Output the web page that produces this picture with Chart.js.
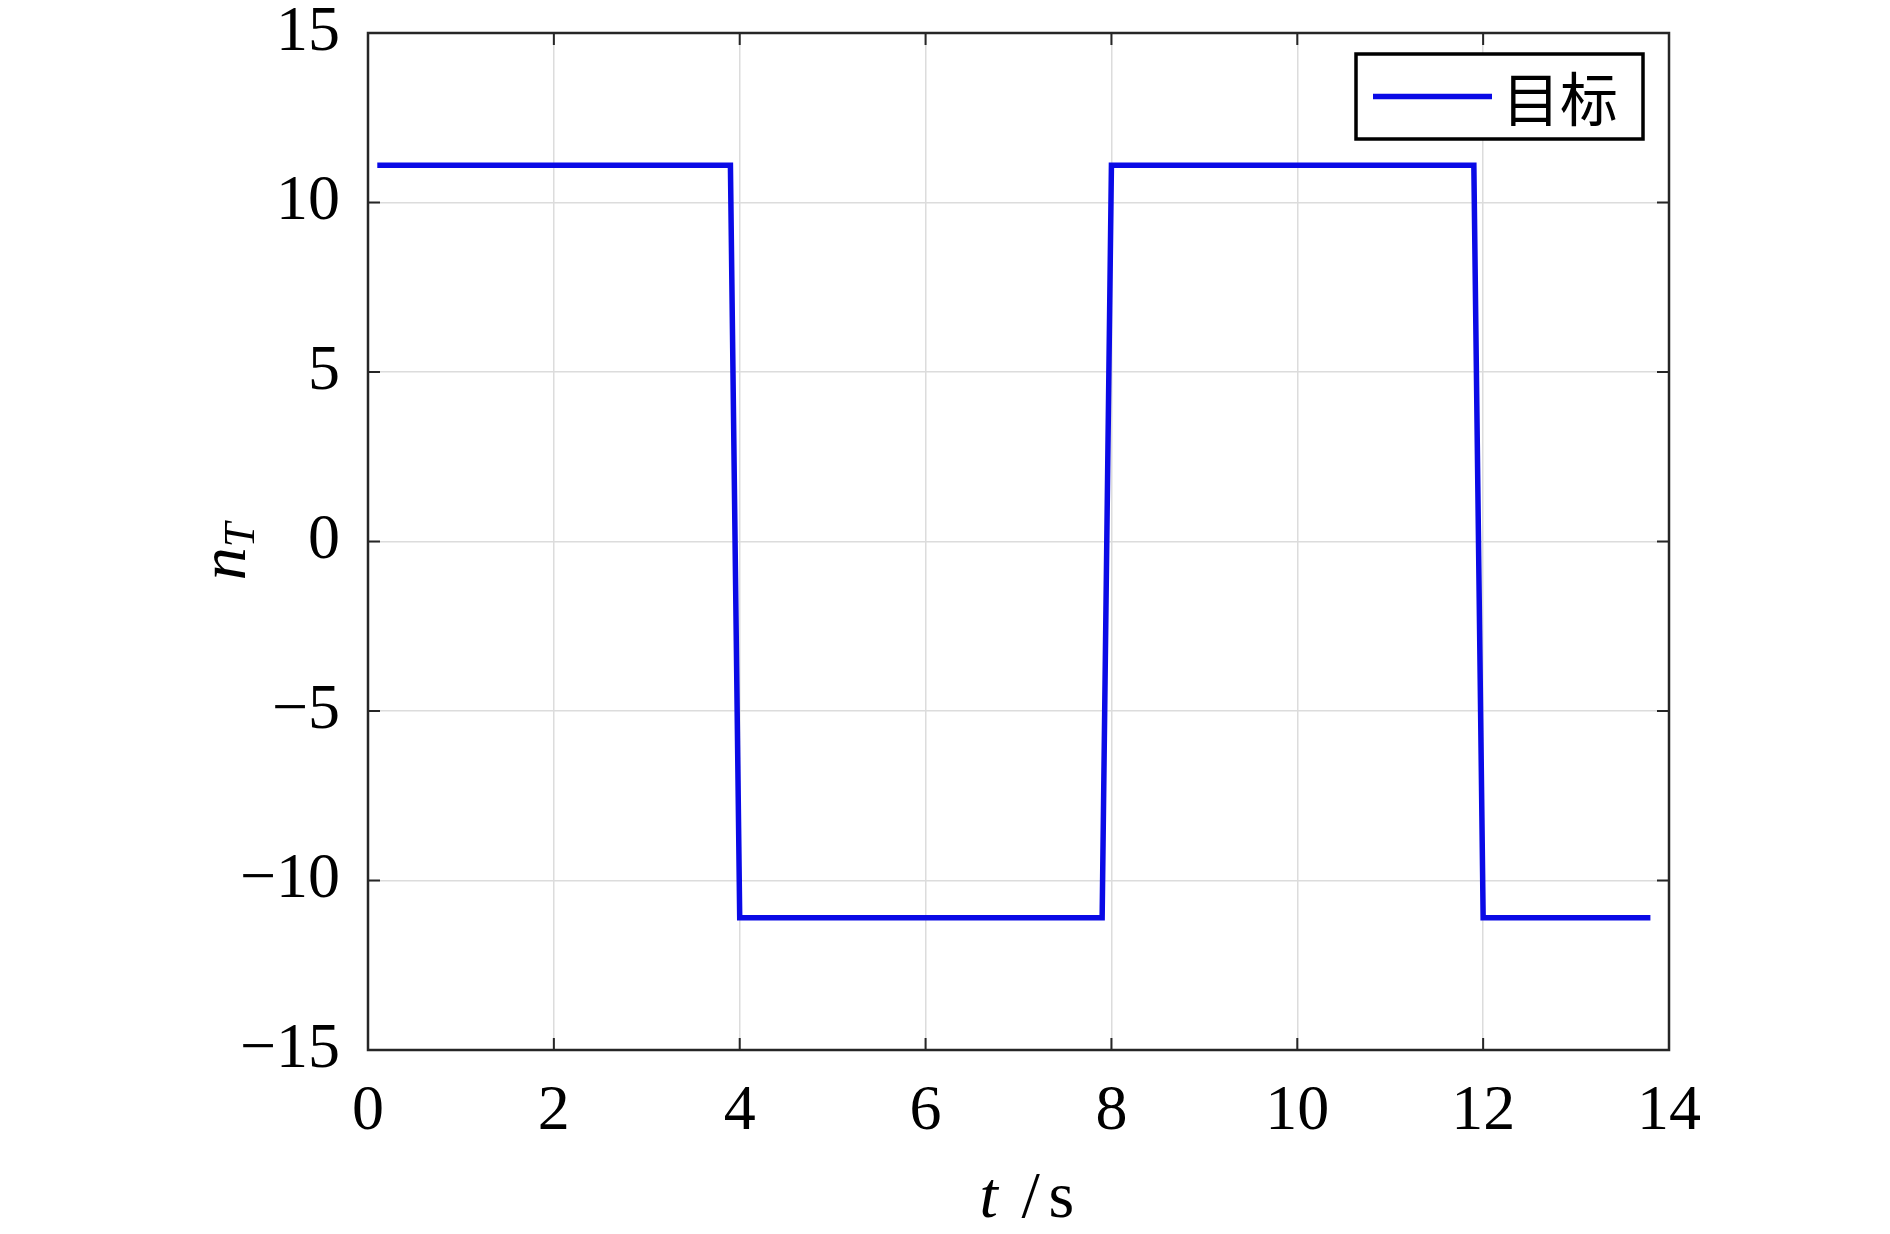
<!DOCTYPE html>
<html>
<head>
<meta charset="utf-8">
<title>目标</title>
<script src="https://cdn.jsdelivr.net/npm/chart.js@4.4.1/dist/chart.umd.min.js"></script>
<style>
  html, body { margin: 0; padding: 0; background: #fff; }
  canvas { display: block; }
</style>
</head>
<body>
<canvas id="chart" width="1890" height="1234"></canvas>
<script>
// target signal n_T over time t
const timeValues = [0.1, 3.9, 4.0, 7.9, 8.0, 11.9, 12.0, 13.8];
const targetValues = [11.1, 11.1, -11.1, -11.1, 11.1, 11.1, -11.1, -11.1];
const seriesLabel = '目标';
const xTicks = [0, 2, 4, 6, 8, 10, 12, 14];
const yTicks = [-15, -10, -5, 0, 5, 10, 15];

const LINE_COLOR = '#0a0ae6';
const SERIF = '"Liberation Serif", "DejaVu Serif", serif';
const CJK = '"Noto Sans CJK SC", sans-serif';

const points = timeValues.map((t, i) => ({ x: t, y: targetValues[i] }));

const minusSign = v => String(v).replace('-', '\u2212');

// box, inward ticks, axis titles and legend, drawn like a matlab axes
const axesDecor = {
  id: 'axesDecor',
  afterDraw(chart) {
    const { ctx, chartArea: a, scales } = chart;
    const tickLen = 12;
    ctx.save();
    ctx.strokeStyle = '#262626';
    ctx.lineWidth = 2;
    ctx.beginPath();
    xTicks.forEach(v => {
      const px = scales.x.getPixelForValue(v);
      ctx.moveTo(px, a.bottom); ctx.lineTo(px, a.bottom - tickLen);
      ctx.moveTo(px, a.top); ctx.lineTo(px, a.top + tickLen);
    });
    yTicks.forEach(v => {
      const py = scales.y.getPixelForValue(v);
      ctx.moveTo(a.left, py); ctx.lineTo(a.left + tickLen, py);
      ctx.moveTo(a.right, py); ctx.lineTo(a.right - tickLen, py);
    });
    ctx.stroke();
    ctx.lineWidth = 2.5;
    ctx.strokeRect(a.left, a.top, a.right - a.left, a.bottom - a.top);

    // x title: t /s
    ctx.fillStyle = '#000';
    ctx.textBaseline = 'alphabetic';
    ctx.textAlign = 'left';
    const cx = (a.left + a.right) / 2 + 8;
    const base = a.bottom + 167;
    ctx.font = 'italic 66px ' + SERIF;
    ctx.fillText('t', cx - 47, base);
    ctx.font = '66px ' + SERIF;
    ctx.fillText('/', cx - 5, base);
    ctx.fillText('s', cx + 22, base);

    // y title: n_T
    ctx.save();
    ctx.translate(a.left - 123, (a.top + a.bottom) / 2 + 10);
    ctx.rotate(-Math.PI / 2);
    ctx.font = 'italic 66px ' + SERIF;
    const nW = ctx.measureText('n').width;
    ctx.font = 'italic 44px ' + SERIF;
    const sW = ctx.measureText('T').width;
    const sx = -(nW + sW) / 2;
    ctx.font = 'italic 66px ' + SERIF;
    ctx.fillText('n', sx, 0);
    ctx.font = 'italic 44px ' + SERIF;
    ctx.fillText('T', sx + nW, 9);
    ctx.restore();

    // legend
    const ds = chart.data.datasets[0];
    const lw = 287, lh = 85;
    const lx = a.right - 26 - lw, ly = a.top + 21;
    ctx.fillStyle = '#fff';
    ctx.fillRect(lx, ly, lw, lh);
    ctx.strokeStyle = '#000';
    ctx.lineWidth = 3.5;
    ctx.strokeRect(lx, ly, lw, lh);
    ctx.strokeStyle = ds.borderColor;
    ctx.lineWidth = ds.borderWidth;
    ctx.beginPath();
    ctx.moveTo(lx + 17, ly + lh / 2);
    ctx.lineTo(lx + 136, ly + lh / 2);
    ctx.stroke();
    ctx.fillStyle = '#000';
    ctx.font = '58px ' + CJK;
    ctx.textBaseline = 'middle';
    ctx.fillText(ds.label, lx + 146, ly + lh / 2 + 2);
    ctx.restore();
  }
};

new Chart(document.getElementById('chart'), {
  type: 'line',
  data: {
    datasets: [{
      label: seriesLabel,
      data: points,
      borderColor: LINE_COLOR,
      borderWidth: 5.5,
      pointRadius: 0,
      tension: 0,
      fill: false
    }]
  },
  options: {
    responsive: false,
    animation: false,
    devicePixelRatio: 1,
    layout: { padding: { top: 33, right: 221, left: 0, bottom: 0 } },
    plugins: {
      legend: { display: false },
      tooltip: { enabled: false }
    },
    scales: {
      x: {
        type: 'linear',
        min: 0,
        max: 14,
        afterFit: s => { s.height = 184; s.paddingLeft = 0; s.paddingRight = 0; },
        afterBuildTicks: s => { s.ticks = xTicks.map(v => ({ value: v })); },
        ticks: {
          color: '#000',
          padding: 30,
          maxRotation: 0,
          font: { family: SERIF, size: 64, lineHeight: 1 }
        },
        grid: { color: '#dcdcdc', lineWidth: 1.5, drawTicks: false },
        border: { display: false }
      },
      y: {
        min: -15,
        max: 15,
        afterFit: s => { s.width = 368; s.paddingTop = 0; s.paddingBottom = 0; },
        afterBuildTicks: s => { s.ticks = yTicks.map(v => ({ value: v })); },
        ticks: {
          color: '#000',
          padding: 28,
          callback: v => minusSign(v),
          font: { family: SERIF, size: 64, lineHeight: 1 }
        },
        grid: { color: '#dcdcdc', lineWidth: 1.5, drawTicks: false },
        border: { display: false }
      }
    }
  },
  plugins: [axesDecor]
});
</script>
</body>
</html>
